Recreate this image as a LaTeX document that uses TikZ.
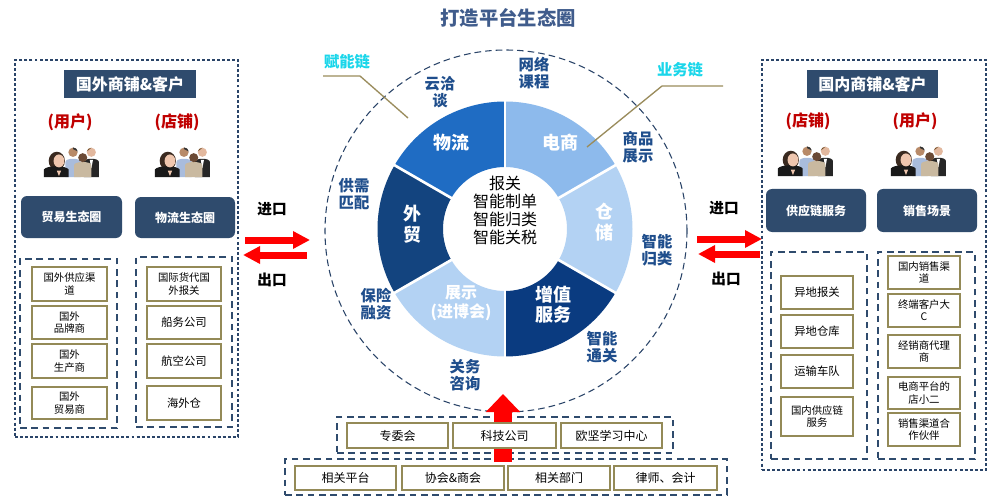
\documentclass[tikz,border=0pt]{standalone}
\usepackage{fontspec}
\setmainfont{Noto Sans CJK SC}
\usetikzlibrary{fit,arrows.meta,calc}
\definecolor{navy}{HTML}{2F4B6D}
\definecolor{dnavy}{HTML}{2A4468}
\definecolor{olive}{HTML}{948A57}
\definecolor{ringblue}{HTML}{1F4E8C}
\definecolor{titlec}{HTML}{405C8C}
\definecolor{redlab}{HTML}{C00000}
\definecolor{cyanl}{HTML}{1AD6EA}
\definecolor{segA}{HTML}{1F6CC3}
\definecolor{segB}{HTML}{8DBAEC}
\definecolor{segC}{HTML}{B3D2F3}
\definecolor{segD}{HTML}{0A3B80}
\definecolor{segE}{HTML}{13447F}
\definecolor{lineol}{HTML}{9A8C5C}
\definecolor{skinA}{HTML}{EFC6AE}
\definecolor{skinB}{HTML}{B88A68}
\definecolor{skinC}{HTML}{6B4A35}
\definecolor{skinD}{HTML}{E2B89E}
\definecolor{hairA}{HTML}{3A2A20}
\definecolor{shirtB}{HTML}{A9BCDC}
\definecolor{beige}{HTML}{C9B9A0}
\newcommand\ringseg[3]{\fill[#3] ($(C)+(#1:62)$) arc[start angle=#1,end angle=#2,radius=62] -- ($(C)+(#2:127.5)$) arc[start angle=#2,end angle=#1,radius=127.5] -- cycle;}
% box by corners, then its text centred on it
\newcommand\tb[5]{\node[#1, fit={#2}] (#3) {}; \node[#4] (#3t) at (#3.center) {#5};}
\tikzset{
  odash/.style={draw=dnavy, line width=0.9pt, dash pattern=on 2.2pt off 1.6pt, inner sep=0pt},
  idash/.style={draw=navy, line width=1.6pt, dash pattern=on 5pt off 3.5pt, inner sep=0pt},
  hdr/.style={fill=navy, inner sep=0pt},
  hdrt/.style={text=white, font=\bfseries\fontsize{12}{14}\selectfont, inner sep=0pt},
  redl/.style={text=redlab, font=\bfseries\fontsize{12}{14}\selectfont},
  rbox/.style={fill=navy, rounded corners=4.5pt, inner sep=0pt},
  rboxt/.style={text=white, font=\bfseries\fontsize{9}{11}\selectfont, inner sep=0pt},
  obox/.style={draw=olive, line width=1.6pt, fill=white, inner sep=0pt},
  oboxt/.style={inner sep=0pt, align=center, font=\fontsize{7.8}{9.2}\selectfont},
  oboxs/.style={inner sep=0pt, font=\fontsize{8.5}{10}\selectfont},
  bbox/.style={draw=olive, line width=1.6pt, fill=white, inner sep=0pt},
  bboxt/.style={inner sep=0pt, font=\fontsize{9}{11}\selectfont},
  seglab/.style={text=white, font=\bfseries\fontsize{13.5}{15.5}\selectfont, align=center},
  ringlab/.style={text=ringblue, font=\bfseries\fontsize{11.5}{13}\selectfont, align=center},
  chain/.style={text=cyanl, font=\bfseries\fontsize{11.5}{13}\selectfont},
  chainline/.style={draw=lineol, line width=1pt},
  bigarrow/.style={draw=red, line width=5.25pt, -{Triangle[length=12.75pt,width=12.5pt]}},
  iolab/.style={font=\bfseries\fontsize{11}{13}\selectfont},
  grp/.pic={
    % man behind, blue shirt
    \fill[shirtB] (-7,-14) -- (-7,0) .. controls (-7,4) and (7,4) .. (7,0) -- (7,-14) -- cycle;
    \fill[skinB] (0,9) circle[radius=4.3];
    \fill[black!80] (0,13.5) arc[start angle=90,end angle=10,radius=4.5] -- (0,12) -- cycle;
    % man right, black suit
    \fill[black!85] (10,-14) -- (10,0) .. controls (10,4) and (24,4) .. (24,0) -- (24,-14) -- cycle;
    \fill[white] (15.5,2) -- (18.5,2) -- (17,-6) -- cycle;
    \fill[skinD] (17,9) circle[radius=4.2];
    \fill[brown!60!black] (17,13.2) arc[start angle=90,end angle=170,radius=4.3] -- cycle;
    % woman, beige
    \fill[beige] (1,-14) -- (1,-3) .. controls (1,1) and (17,1) .. (17,-3) -- (17,-14) -- cycle;
    \fill[skinC] (9,4) circle[radius=4.2];
    % woman front, black suit
    \fill[hairA] (-15,1) ellipse[x radius=7.5, y radius=8.5];
    \fill[black!90] (-27,-14) -- (-27,-7) .. controls (-25,-3) and (-6,-3) .. (-4,-7) -- (-4,-14) -- cycle;
    \fill[skinA] (-13,1) ellipse[x radius=5, y radius=6];
    \fill[skinA] (-15,-8) -- (-11,-8) -- (-13,-13) -- cycle;
  }
}
\begin{document}
\begin{tikzpicture}[x=0.75pt,y=0.75pt]
\useasboundingbox (0,0) rectangle (1008,-503);
\fill[white] (0,0) rectangle (1008,-503);

% title
\node[text=titlec, font=\bfseries\fontsize{14.5}{16}\selectfont] (title) at (508,-18) {打造平台生态圈};

% ---------- left side ----------
\node[odash, fit={(15,-60)(238,-437)}] (lout) {};
\tb{hdr}{(64,-70)(196,-98)}{lhdr}{hdrt}{国外商铺\&客户}
\node[redl] (lu) at (70,-122) {(用户)};
\node[redl] (ls) at (177,-122) {(店铺)};
\pic[scale=1.08] (lpa) at (73,-162) {grp};
\pic[scale=1.08] (lpb) at (184,-162) {grp};
\tb{rbox}{(21,-196)(122,-238)}{leco1}{rboxt}{贸易生态圈}
\tb{rbox}{(135,-197)(235,-238)}{leco2}{rboxt}{物流生态圈}
\node[idash, fit={(20,-259)(117,-428)}] (lin1) {};
\node[idash, fit={(136,-257)(232,-427)}] (lin2) {};
\tb{obox}{(32,-267)(107,-301)}{la1}{oboxt}{国外供应渠\\道}
\tb{obox}{(32,-306)(107,-339)}{la2}{oboxt}{国外\\品牌商}
\tb{obox}{(32,-344)(107,-378)}{la3}{oboxt}{国外\\生产商}
\tb{obox}{(32,-387)(107,-419)}{la4}{oboxt}{国外\\贸易商}
\tb{obox}{(147,-267)(221,-301)}{lb1}{oboxt}{国际货代国\\外报关}
\tb{obox}{(147,-306)(221,-339)}{lb2}{oboxs}{船务公司}
\tb{obox}{(147,-344)(221,-378)}{lb3}{oboxs}{航空公司}
\tb{obox}{(147,-386)(221,-420)}{lb4}{oboxs}{海外仓}

% ---------- right side ----------
\node[odash, fit={(762,-60)(986,-470)}] (rout) {};
\tb{hdr}{(807,-70)(938,-98)}{rhdr}{hdrt}{国内商铺\&客户}
\node[redl] (rs) at (808,-121) {(店铺)};
\node[redl] (ru) at (915,-121) {(用户)};
\pic[scale=1.08] (rpa) at (807,-161) {grp};
\pic[scale=1.08] (rpb) at (920,-161) {grp};
\tb{rbox}{(766,-189)(866,-232)}{reco1}{rboxt}{供应链服务}
\tb{rbox}{(877,-189)(977,-232)}{reco2}{rboxt}{销售场景}
\node[idash, fit={(771,-252)(867,-459)}] (rin1) {};
\node[idash, fit={(878,-252)(975,-459)}] (rin2) {};
\tb{obox}{(781,-276)(853,-309)}{ra1}{oboxs}{异地报关}
\tb{obox}{(781,-315)(853,-348)}{ra2}{oboxs}{异地仓库}
\tb{obox}{(781,-355)(853,-388)}{ra3}{oboxs}{运输车队}
\tb{obox}{(781,-397)(853,-436)}{ra4}{oboxt}{国内供应链\\服务}
\tb{obox}{(888,-256)(960,-289)}{rb1}{oboxt}{国内销售渠\\道}
\tb{obox}{(888,-294)(960,-327)}{rb2}{oboxt}{终端客户大\\C}
\tb{obox}{(888,-335)(960,-368)}{rb3}{oboxt}{经销商代理\\商}
\tb{obox}{(888,-377)(960,-409)}{rb4}{oboxt}{电商平台的\\店小二}
\tb{obox}{(888,-413)(960,-446)}{rb5}{oboxt}{销售渠道合\\作伙伴}

% ---------- import / export arrows ----------
\node[iolab] (lin) at (272,-209) {进口};
\node[iolab] (lout2) at (272,-280) {出口};
\coordinate (la0) at (245,-240); \coordinate (la9) at (310,-240);
\coordinate (lb0) at (307,-255); \coordinate (lb9) at (243,-255);
\draw[bigarrow] (la0) -- (la9);
\draw[bigarrow] (lb0) -- (lb9);
\node[iolab] (rin) at (724,-208) {进口};
\node[iolab] (rout2) at (726,-279) {出口};
\coordinate (ra0) at (697,-239); \coordinate (ra9) at (762,-239);
\coordinate (rb0) at (760,-254); \coordinate (rb9) at (698,-254);
\draw[bigarrow] (ra0) -- (ra9);
\draw[bigarrow] (rb0) -- (rb9);

% ---------- ring ----------
\node[circle, draw=dnavy, line width=0.8pt, dash pattern=on 5pt off 3pt, minimum size=271.5pt, inner sep=0pt] (ring) at (506,-231) {};
\coordinate (C) at (505,-229);
\ringseg{90}{150}{segA}
\ringseg{30}{90}{segB}
\ringseg{-30}{30}{segC}
\ringseg{-90}{-30}{segD}
\ringseg{210}{270}{segC}
\ringseg{150}{210}{segE}
\foreach \a in {90,30,-30,-90,-150,150}{
  \draw[white, line width=2pt] ($(C)+(\a:61)$) -- ($(C)+(\a:129)$);
}
\node[seglab] (s1) at (451,-143) {物流};
\node[seglab] (s2) at (560,-143) {电商};
\node[seglab, font=\bfseries\fontsize{13.5}{15.8}\selectfont] (s3) at (604,-222) {仓\\储};
\node[seglab, font=\bfseries\fontsize{13.5}{15}\selectfont] (s4) at (553,-305) {增值\\服务};
\node[seglab, font=\bfseries\fontsize{12}{14.5}\selectfont] (s5) at (461,-303) {展示\\(进博会)};
\node[seglab, font=\bfseries\fontsize{13.5}{16}\selectfont] (s6) at (412,-224) {外\\贸};
\node[align=center, font=\fontsize{12}{13.5}\selectfont] (core) at (505,-210) {报关\\智能制单\\智能归类\\智能关税};

\node[ringlab] (r1) at (440,-92) {云洽\\谈};
\node[ringlab] (r2) at (534,-73) {网络\\课程};
\node[ringlab] (r3) at (638,-147) {商品\\展示};
\node[ringlab] (r4) at (657,-250) {智能\\归类};
\node[ringlab] (r5) at (602,-347) {智能\\通关};
\node[ringlab] (r6) at (465,-375) {关务\\咨询};
\node[ringlab] (r7) at (376,-304) {保险\\融资};
\node[ringlab] (r8) at (354,-194) {供需\\匹配};

% chains
\node[chain] (fn) at (347,-62) {赋能链};
\coordinate (fn0) at (323,-76); \coordinate (fn1) at (360,-76); \coordinate (fn2) at (408,-118);
\draw[chainline] (fn0) -- (fn1) -- (fn2);
\node[chain] (yw) at (680,-70) {业务链};
\coordinate (yw0) at (723,-86); \coordinate (yw1) at (662,-86); \coordinate (yw2) at (587,-147);
\draw[chainline] (yw0) -- (yw1) -- (yw2);

% ---------- bottom ----------
\node[idash, fit={(337,-417)(673,-453)}] (bup) {};
\node[idash, fit={(285,-459)(727,-495)}] (bdn) {};
\coordinate (ua0) at (503,-462); \coordinate (ua1) at (503,-394);
\draw[draw=red, line width=13.5pt, -{Triangle[length=13.5pt,width=25pt]}] (ua0) -- (ua1);
\tb{bbox}{(347,-423)(448,-448)}{bu1}{bboxt}{专委会}
\tb{bbox}{(453,-423)(556,-448)}{bu2}{bboxt}{科技公司}
\tb{bbox}{(561,-423)(662,-448)}{bu3}{bboxt}{欧坚学习中心}
\tb{bbox}{(295,-466)(396,-490)}{bd1}{bboxt}{相关平台}
\tb{bbox}{(402,-466)(504,-490)}{bd2}{bboxt}{协会\&商会}
\tb{bbox}{(508,-466)(610,-490)}{bd3}{bboxt}{相关部门}
\tb{bbox}{(614,-466)(717,-490)}{bd4}{bboxt}{律师、会计}
\end{tikzpicture}
\end{document}
